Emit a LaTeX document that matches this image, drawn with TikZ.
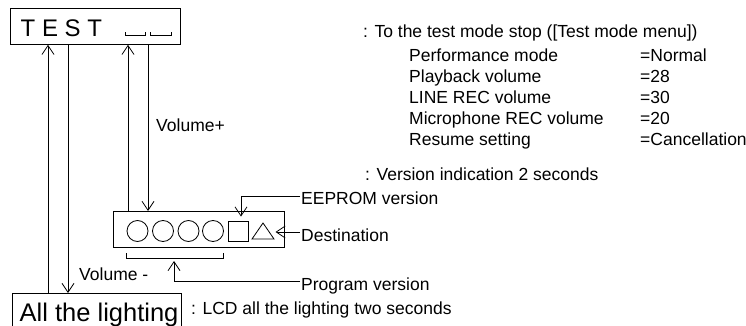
\documentclass[tikz,border=0pt]{standalone}
\usepackage{fontspec}
\setmainfont{Liberation Sans}
\usetikzlibrary{arrows.meta}
\begin{document}
\begin{tikzpicture}[x=1pt,y=-1pt,
  ln/.style={line width=0.8pt},
  arr/.style={ln,-{Straight Barb[length=9pt,width=12pt]}},
  box/.style={draw,ln,anchor=north west,inner sep=0pt},
  txt/.style={anchor=base west,inner sep=0pt,font=\fontsize{17.5}{20}\selectfont},
  big/.style={anchor=base west,inner sep=0pt,font=\fontsize{24}{28}\selectfont},
  ring/.style={draw,ln,circle,minimum size=21pt,inner sep=0pt},
]
\clip (0,0) rectangle (746,326);
% TEST display
\node[box,minimum width=170pt,minimum height=36pt] (test) at (10,8) {};
\node[big] (testtxt) at (20.5,37) {T E S T};
\draw[ln] (125,32.5) -- (125,35) -- (145,35) -- (145,32.5);
\draw[ln] (150,32.5) -- (150,35) -- (171,35) -- (171,32.5);
% All the lighting display
\node[box,minimum width=169pt,minimum height=45pt] (all) at (12,293) {};
\node[big,font=\fontsize{25.5}{30}\selectfont] (alltxt) at (19.5,321.5) {All the lighting};
% version display
\node[box,minimum width=171pt,minimum height=36pt] (ver) at (113,211) {};
\node[ring] (c1) at (137.5,231) {};
\node[ring] (c2) at (163,231) {};
\node[ring] (c3) at (188.5,231) {};
\node[ring] (c4) at (213,231) {};
\node[draw,ln,minimum size=20pt,inner sep=0pt] (sq) at (238,231) {};
\draw[ln] (252,239) -- (274,239) -- (263,223) -- cycle;
\coordinate (tri) at (275.5,232);
\draw[ln] (126,253) -- (126,258) -- (223,258) -- (223,253);
\coordinate (brk) at (174,258);
% vertical connectors
\coordinate (L1) at (48,0);
\coordinate (L2) at (68,0);
\coordinate (R1) at (128,0);
\coordinate (R2) at (148,0);
\draw[arr] (all.north -| L1) -- (test.south -| L1);
\draw[arr] (test.south -| L2) -- (all.north -| L2);
\draw[arr] (ver.north -| R1) -- (test.south -| R1);
\draw[arr] (test.south -| R2) -- (ver.north -| R2);
% labels
\node[txt] (vp) at (156,131.5) {Volume+};
\node[txt] (vm) at (79,280.5) {Volume -};
\node[txt] (eep) at (301,204) {EEPROM version};
\node[txt] (dest) at (301,241) {Destination};
\node[txt] (prog) at (301,290) {Program version};
\draw[arr] ([shift={(-1pt,8pt)}]eep.base west) -| ([shift={(3pt,4pt)}]sq.north);
\draw[arr] ([shift={(-1pt,9pt)}]dest.base west) -- (tri);
\draw[arr] ([shift={(-1pt,9pt)}]prog.base west) -| ([yshift=-3pt]brk);
% right texts
\node[txt] (stop) at (363,37.5) {: To the test mode stop ([Test mode menu])};
\node[txt] (k1) at (409,62) {Performance mode};
\node[txt] (v1) at (640,62) {=Normal};
\node[txt] (k2) at (409,82.8) {Playback volume};
\node[txt] (v2) at (640,82.8) {=28};
\node[txt] (k3) at (409,103.6) {LINE REC volume};
\node[txt] (v3) at (640,103.6) {=30};
\node[txt] (k4) at (409,124.4) {Microphone REC volume};
\node[txt] (v4) at (640,124.4) {=20};
\node[txt] (k5) at (409,145.2) {Resume setting};
\node[txt] (v5) at (640,145.2) {=Cancellation};
\node[txt] (vind) at (365,180) {: Version indication 2 seconds};
\node[txt] (lcd) at (191,314) {: LCD all the lighting two seconds};
\end{tikzpicture}
\end{document}
